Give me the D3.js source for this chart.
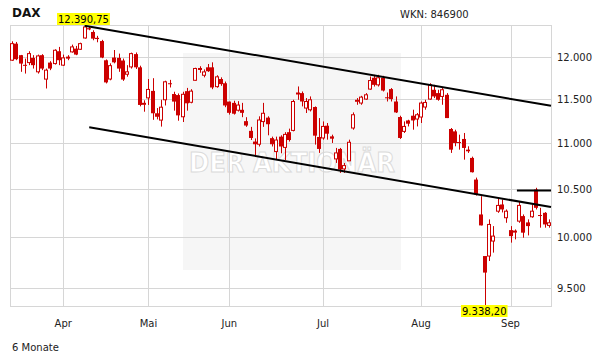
<!DOCTYPE html>
<html>
<head>
<meta charset="utf-8">
<script src="https://cdn.jsdelivr.net/npm/d3@7"></script>
<style>
  body { margin: 0; background: #fff; }
  text { font-family: "DejaVu Sans", Verdana, sans-serif; }
</style>
</head>
<body>
<div id="container"></div>
<script>
// trading days, DAX, 16.03.2015 - 14.09.2015
const dates = [
  "2015-03-16","2015-03-17","2015-03-18","2015-03-19","2015-03-20","2015-03-23","2015-03-24","2015-03-25","2015-03-26","2015-03-27",
  "2015-03-30","2015-03-31","2015-04-01","2015-04-02","2015-04-07","2015-04-08","2015-04-09","2015-04-10","2015-04-13","2015-04-14",
  "2015-04-15","2015-04-16","2015-04-17","2015-04-20","2015-04-21","2015-04-22","2015-04-23","2015-04-24","2015-04-27","2015-04-28",
  "2015-04-29","2015-04-30","2015-05-04","2015-05-05","2015-05-06","2015-05-07","2015-05-08","2015-05-11","2015-05-12","2015-05-13",
  "2015-05-14","2015-05-15","2015-05-18","2015-05-19","2015-05-20","2015-05-21","2015-05-22","2015-05-26","2015-05-27","2015-05-28",
  "2015-05-29","2015-06-01","2015-06-02","2015-06-03","2015-06-04","2015-06-05","2015-06-08","2015-06-09","2015-06-10","2015-06-11",
  "2015-06-12","2015-06-15","2015-06-16","2015-06-17","2015-06-18","2015-06-19","2015-06-22","2015-06-23","2015-06-24","2015-06-25",
  "2015-06-26","2015-06-29","2015-06-30","2015-07-01","2015-07-02","2015-07-03","2015-07-06","2015-07-07","2015-07-08","2015-07-09",
  "2015-07-10","2015-07-13","2015-07-14","2015-07-15","2015-07-16","2015-07-17","2015-07-20","2015-07-21","2015-07-22","2015-07-23",
  "2015-07-24","2015-07-27","2015-07-28","2015-07-29","2015-07-30","2015-07-31","2015-08-03","2015-08-04","2015-08-05","2015-08-06",
  "2015-08-07","2015-08-10","2015-08-11","2015-08-12","2015-08-13","2015-08-14","2015-08-17","2015-08-18","2015-08-19","2015-08-20",
  "2015-08-21","2015-08-24","2015-08-25","2015-08-26","2015-08-27","2015-08-28","2015-08-31","2015-09-01","2015-09-02","2015-09-03",
  "2015-09-04","2015-09-07","2015-09-08","2015-09-09","2015-09-10","2015-09-11","2015-09-14"
];

const open = [
  11966,12168,12027,11910,11937,11994,11826,12027,11739,11937,
  11925,12075,11906,11995,12067,12107,12099,12238,12360,12313,
  12240,12200,11965,11740,11998,11994,11962,11797,11885,12040,
  11880,11450,11518,11600,11340,11262,11496,11690,11563,11551,
  11300,11597,11467,11725,11860,11785,11880,11880,11650,11740,
  11690,11475,11460,11375,11380,11250,11140,11020,10990,11245,
  11290,11058,10910,11075,10955,11125,11145,11570,11574,11400,
  11380,11412,11071,11060,11198,11078,10828,10938,10719,10807,
  11172,11485,11458,11504,11621,11755,11671,11755,11525,11621,
  11476,11297,11134,11258,11312,11274,11297,11412,11504,11613,
  11574,11535,11554,11161,11134,11015,11049,10930,10839,10604,
  10236,9814,9814,9964,10270,10340,10202,10075,10060,10167,
  10219,10154,10212,10498,10230,10253,10123
];
const high = [
  12197,12189,12030,11985,12075,12027,12034,12039,11865,11954,
  12099,12128,12034,12027,12156,12140,12180,12390.75,12378,12334,
  12265,12215,11975,11928,12090,12046,11986,11906,12058,12060,
  11900,11490,11740,11750,11400,11496,11720,11730,11590,11570,
  11590,11635,11620,11875,11893,11855,11920,11940,11785,11760,
  11710,11475,11485,11480,11460,11295,11185,11055,11305,11460,
  11305,11075,11075,11090,11125,11165,11496,11652,11593,11516,
  11535,11419,11285,11247,11229,11097,10949,10949,10784,11041,
  11350,11516,11542,11574,11770,11790,11790,11778,11581,11633,
  11535,11312,11247,11266,11381,11343,11476,11496,11690,11671,
  11613,11633,11574,11172,11153,11097,11116,10967,10853,10625,
  10427,9814,10185,10116,10410,10392,10288,10116,10082,10375,
  10236,10185,10340,10516,10305,10260,10185
];
const low = [
  11957,11966,11826,11805,11906,11865,11805,11846,11628,11846,
  11913,11906,11897,11966,12058,12027,12091,12230,12335,12210,
  12185,11990,11688,11725,11928,11826,11718,11768,11865,11860,
  11420,11358,11436,11265,11270,11188,11430,11640,11370,11255,
  11240,11370,11455,11720,11815,11760,11825,11620,11637,11660,
  11410,11325,11325,11360,11295,11185,11037,10870,10965,11185,
  11090,10965,10816,10890,10816,11020,11134,11496,11419,11343,
  11361,10986,10894,11041,11041,11004,10784,10676,10676,10807,
  11153,11438,11438,11496,11613,11651,11651,11593,11476,11476,
  11343,11049,11116,11190,11153,11190,11229,11381,11496,11516,
  11485,11438,11285,10894,10967,10930,10820,10894,10680,10434,
  10123,9338.2,9765,9848,10253,10257,10150,9948,9981,10150,
  9998,10021,10202,10288,10100,10100,10100
];
const close = [
  12168,11978,11925,11900,12046,11906,12018,11865,11846,11865,
  12087,11966,11994,12003,12128,12034,12168,12375,12345,12230,
  12225,11998,11700,11900,11940,11865,11734,11826,12046,11880,
  11436,11455,11617,11340,11300,11410,11707,11680,11475,11316,
  11560,11455,11597,11866,11866,11825,11833,11640,11766,11680,
  11430,11345,11335,11435,11345,11200,11060,10990,11263,11340,
  11215,10990,11037,10965,11100,11037,11476,11575,11476,11476,
  11496,11086,10938,11190,11108,11052,10894,10712,10755,11012,
  11323,11490,11527,11554,11722,11671,11755,11604,11520,11504,
  11350,11060,11190,11221,11258,11323,11458,11465,11671,11535,
  11496,11613,11285,10930,11004,11008,10949,10912,10683,10445,
  10123,9651,10133,10014,10330,10288,10270,10014,10065,10330,
  10049,10116,10270,10305,10226,10133,10150
];

const monthLabels = ["Apr","Mai","Jun","Jul","Aug","Sep"];
const monthStarts = ["2015-04-01","2015-05-04","2015-06-01","2015-07-01","2015-08-03","2015-09-01"];
const yTicks = [9500, 10000, 10500, 11000, 11500, 12000];

// channel lines: [day index, value]
const upperTrend = [[17, 12390.75], [126.5, 11426]];
const lowerTrend = [[18.1, 11181], [126.5, 10313]];
const levelLine = [[118.5, 10487], [126.5, 10487]];

const highIdx = 17, lowIdx = 111;

const de = d3.formatLocale({decimal: ",", thousands: ".", grouping: [3], currency: ["", " €"]});
const fmtTick = de.format(",.0f");
const fmtVal = de.format(",.2f");

const W = 611, H = 364;
const plot = {left: 10, right: 551, top: 25, bottom: 306};
const red = "#cc0000", grid = "#d6d6d6";

const svg = d3.select("#container").append("svg").attr("width", W).attr("height", H);

const x = d3.scaleBand().domain(dates).range([plot.left, plot.right]).padding(0);
const xi = d3.scaleLinear().domain([0, dates.length - 1])
  .range([x(dates[0]) + x.bandwidth() / 2, x(dates[dates.length - 1]) + x.bandwidth() / 2]);
const y = d3.scaleLog().domain([9330, 12400]).range([plot.bottom, plot.top]);

const candles = dates.map((d, i) => ({date: d, o: open[i], h: high[i], l: low[i], c: close[i]}));
const cx = d => Math.round(x(d.date) + x.bandwidth() / 2);
const px = v => Math.round(v) + 0.5;

// watermark
svg.append("rect").attr("x", 183).attr("y", 53).attr("width", 218).attr("height", 217).attr("fill", "#f6f6f6");
svg.append("text").attr("x", 292).attr("y", 172).attr("text-anchor", "middle")
  .attr("font-size", 26).attr("font-weight", "bold").attr("fill", "#ffffff")
  .attr("stroke", "#dadada").attr("stroke-width", 1)
  .attr("textLength", 206).attr("lengthAdjust", "spacingAndGlyphs")
  .text("DER AKTIONÄR");

// gridlines
svg.append("g").selectAll("line").data(yTicks).join("line")
  .attr("x1", plot.left).attr("x2", plot.right)
  .attr("y1", d => px(y(d))).attr("y2", d => px(y(d)))
  .attr("stroke", grid);
svg.append("g").selectAll("line").data(monthStarts).join("line")
  .attr("x1", d => px(x(d) + x.bandwidth() / 2)).attr("x2", d => px(x(d) + x.bandwidth() / 2))
  .attr("y1", plot.top).attr("y2", plot.bottom)
  .attr("stroke", grid);
svg.append("rect").attr("x", plot.left + 0.5).attr("y", plot.top + 0.5)
  .attr("width", plot.right - plot.left).attr("height", plot.bottom - plot.top)
  .attr("fill", "none").attr("stroke", grid);

// axis labels
svg.append("g").selectAll("text").data(yTicks).join("text")
  .attr("x", 557).attr("y", d => y(d) + 4)
  .attr("font-size", 10).attr("fill", "#222")
  .text(d => fmtTick(d));
svg.append("g").selectAll("text").data(monthStarts).join("text")
  .attr("x", d => x(d) + x.bandwidth() / 2).attr("y", 327)
  .attr("text-anchor", "middle").attr("font-size", 10).attr("fill", "#222")
  .text((d, i) => monthLabels[i]);

// candles
const cg = svg.append("g");
cg.selectAll("line").data(candles).join("line")
  .attr("x1", d => cx(d) + 0.5).attr("x2", d => cx(d) + 0.5)
  .attr("y1", d => y(d.h)).attr("y2", d => y(d.l))
  .attr("stroke", red);
cg.selectAll("rect").data(candles).join("rect")
  .attr("x", d => d.c >= d.o ? cx(d) - 1.5 : cx(d) - 2)
  .attr("width", d => d.c >= d.o ? 3 : 4)
  .attr("y", d => d.c >= d.o ? y(d.c) : y(d.o))
  .attr("height", d => Math.max(1, Math.abs(y(d.o) - y(d.c))))
  .attr("fill", d => d.c >= d.o ? "#fff" : red)
  .attr("stroke", d => d.c >= d.o ? red : "none");

// trend lines
const lineGen = d3.line().x(d => xi(d[0])).y(d => y(d[1]));
[upperTrend, lowerTrend, levelLine].forEach(t => {
  svg.append("path").attr("d", lineGen(t)).attr("fill", "none")
    .attr("stroke", "#000").attr("stroke-width", 2);
});

// high / low labels
function tag(idx, value, top) {
  const g = svg.append("g");
  const t = g.append("text").attr("font-size", 10).attr("fill", "#000").text(fmtVal(value));
  const w = t.node().getComputedTextLength() + 2;
  const left = Math.round(xi(idx) - w / 2 - 1);
  g.insert("rect", "text").attr("x", left).attr("y", top).attr("width", w).attr("height", 12).attr("fill", "#ffff00");
  t.attr("x", left + 1).attr("y", top + 10);
}
tag(highIdx, high[highIdx], 13);
tag(lowIdx, low[lowIdx], 305);

// titles
svg.append("text").attr("x", 12).attr("y", 17).attr("font-size", 12).attr("font-weight", "bold").attr("fill", "#111").text("DAX");
svg.append("text").attr("x", 400).attr("y", 18).attr("font-size", 10).attr("fill", "#222").text("WKN: 846900");
svg.append("text").attr("x", 12).attr("y", 351).attr("font-size", 10).attr("fill", "#222").text("6 Monate");
</script>
</body>
</html>
